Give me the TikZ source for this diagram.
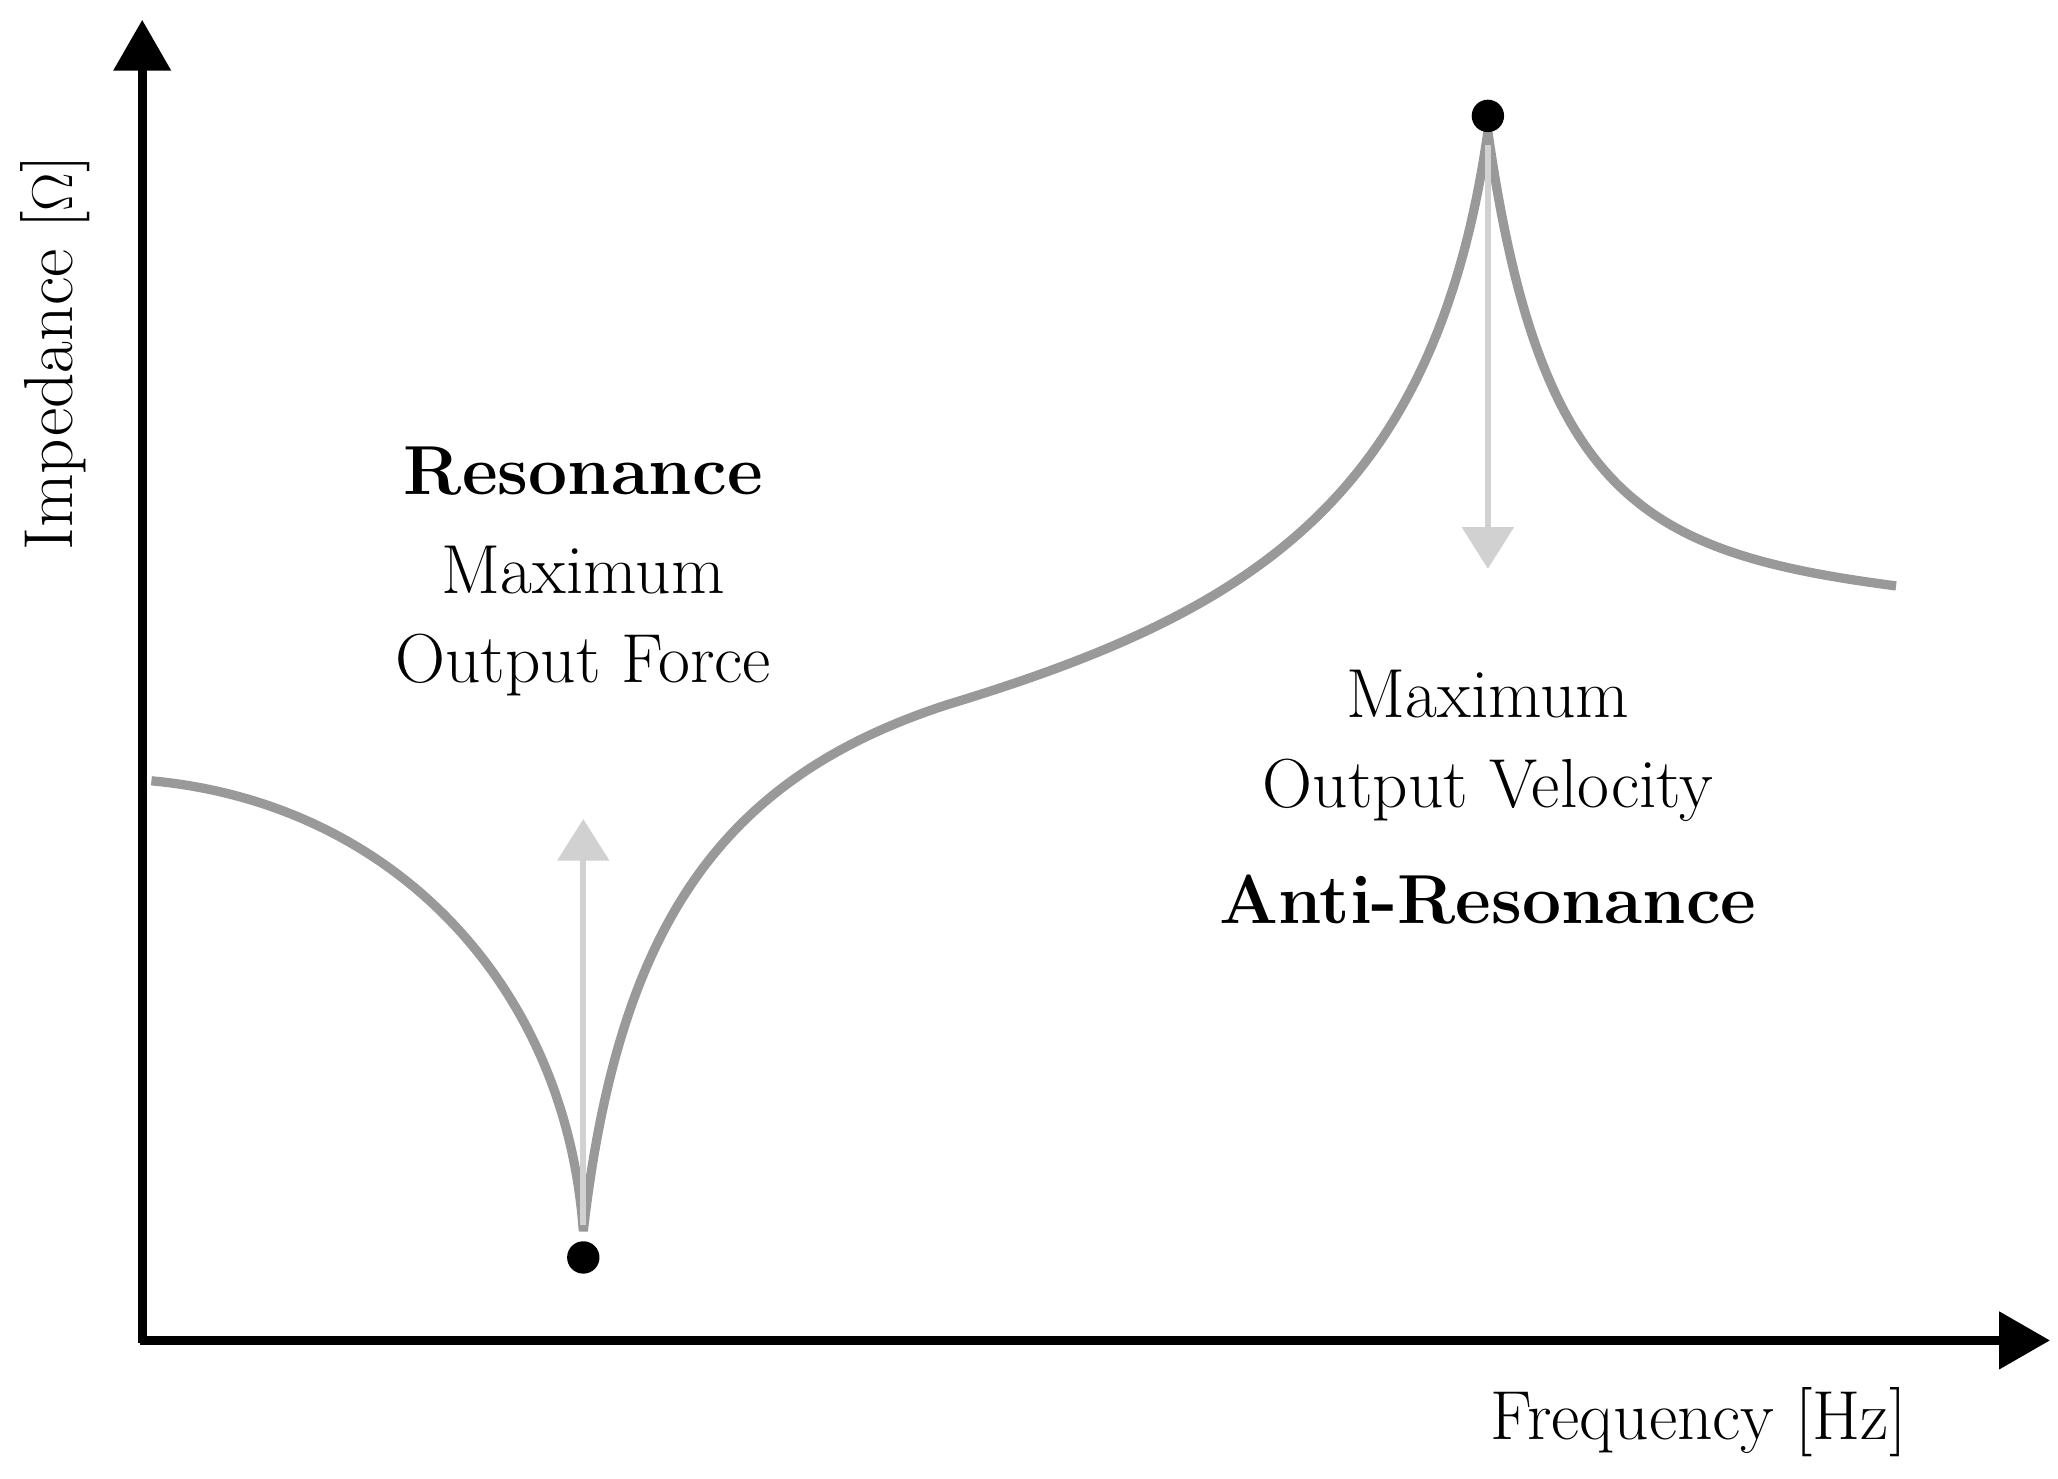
\documentclass[tikz,border=0pt]{standalone}
\usetikzlibrary{arrows.meta}
\begin{document}
\begin{tikzpicture}[x=0.02cm,y=-0.02cm,
  axis/.style={line width=4pt,-{Triangle[length=22pt,width=24pt]}},
  curve/.style={line width=4pt,color=black!40},
  marker/.style={line width=2.5pt,color=black!18,-{Triangle[length=18pt,width=22pt]}},
  dot/.style={circle,fill=black,inner sep=0pt,minimum size=14pt},
  lbl/.style={font=\fontsize{30}{36}\selectfont,align=center},
  blbl/.style={font=\fontsize{30}{36}\selectfont\bfseries,align=center}]
\useasboundingbox (0,0) rectangle (1563,1123);
\coordinate (O) at (108,1018);
\coordinate (Ytop) at (108,15);
\coordinate (Xend) at (1557,1018);
\draw[axis] (108,1020) -- (Ytop);
\draw[axis] (106,1018) -- (Xend);
\draw[curve] (115,593) .. controls (300,610) and (430,750) .. (443,935)
  .. controls (470,700) and (550,590) .. (720,535)
  .. controls (950,465) and (1090,380) .. (1130,100)
  .. controls (1170,380) and (1250,420) .. (1440,445);
\coordinate (r0) at (443,930);
\coordinate (r1) at (443,622);
\coordinate (a0) at (1130,110);
\coordinate (a1) at (1130,432);
\draw[marker] (r0) -- (r1);
\draw[marker] (a0) -- (a1);
\node[dot] (d1) at (443,955) {};
\node[dot] (d2) at (1130,88) {};
\node[blbl] (res) at (443,358) {Resonance};
\node[lbl] (m1) at (443,433) {Maximum};
\node[lbl] (of) at (443,505) {Output Force};
\node[lbl] (m2) at (1130,527) {Maximum};
\node[lbl] (ov) at (1130,600) {Output Velocity};
\node[blbl] (ares) at (1130,683) {Anti-Resonance};
\node[lbl,rotate=90] (yl) at (42,268) {Impedance [$\Omega$]};
\node[lbl] (xl) at (1290,1080) {Frequency [Hz]};
\end{tikzpicture}
\end{document}
